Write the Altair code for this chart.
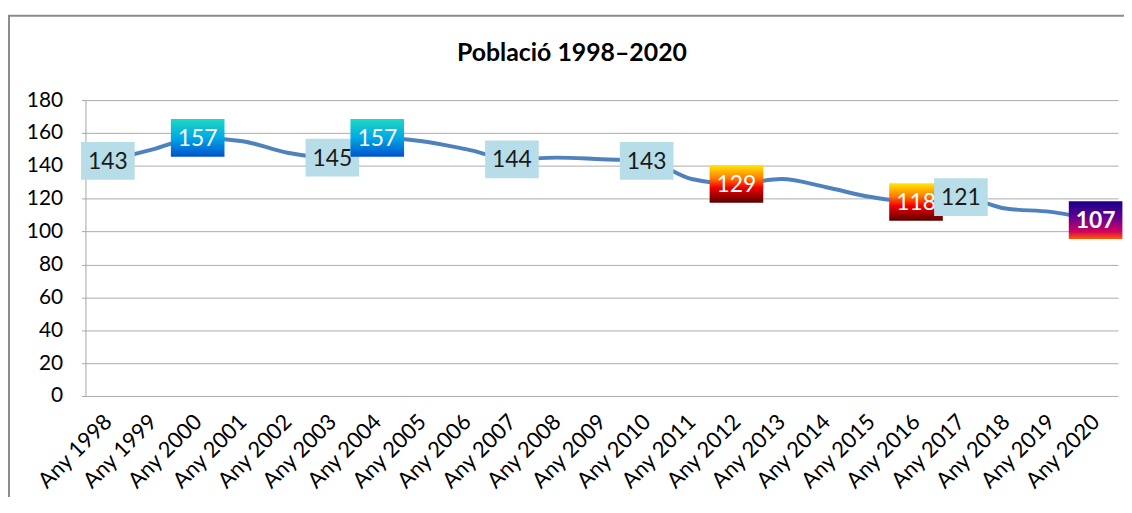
import altair as alt
import pandas as pd

title_text = "Població 1998–2020"
years = [f"Any {y}" for y in range(1998, 2021)]
values = [143, 150, 157, 155, 148, 145, 157, 155, 150, 144, 145, 144, 143,
          132, 129, 132, 127, 121, 118, 121, 114, 112, 107]
label_years = ["Any 1998", "Any 2000", "Any 2003", "Any 2004", "Any 2007",
               "Any 2010", "Any 2012", "Any 2016", "Any 2017", "Any 2020"]
label_kind = ["plain", "teal", "plain", "teal", "plain",
              "plain", "fire", "fire", "plain", "purple"]

df = pd.DataFrame({"year": years, "value": values})
val_map = dict(zip(years, values))
lab = pd.DataFrame({
    "year": label_years,
    "value": [val_map[y] for y in label_years],
    "kind": label_kind,
    "order": list(range(len(label_years))),
})

W, H = 1040, 298
FONT = "Lato"

x_scale = alt.Scale(type="point", padding=0.5)
y_scale = alt.Scale(domain=[0, 180], nice=False)


def xy():
    return dict(
        x=alt.X("year:N", sort=years, scale=x_scale, title=None),
        y=alt.Y("value:Q", scale=y_scale, title=None),
    )


frame = alt.Chart(pd.DataFrame({"a": [0]})).mark_rect(
    fillOpacity=0, stroke="#8C8C8C", strokeWidth=2
).encode(x=alt.value(-77), x2=alt.value(1070), y=alt.value(-85), y2=alt.value(430))

title = alt.Chart(pd.DataFrame({"t": [title_text]})).mark_text(
    fontSize=25, font=FONT, fontWeight="bold", color="black", align="center",
    baseline="middle"
).encode(text="t:N", x=alt.value(490), y=alt.value(-47))

line = alt.Chart(df).mark_line(color="#4F81BD", strokeWidth=4,
                               interpolate="monotone").encode(**xy())

gradients = {
    "teal": alt.LinearGradient(gradient="linear", x1=0, y1=0, x2=0, y2=1, stops=[
        alt.GradientStop(color="#1ED8C2", offset=0),
        alt.GradientStop(color="#00A8E6", offset=0.5),
        alt.GradientStop(color="#0052CC", offset=1)]),
    "fire": alt.LinearGradient(gradient="linear", x1=0, y1=0, x2=0, y2=1, stops=[
        alt.GradientStop(color="#FFEA00", offset=0),
        alt.GradientStop(color="#FF7A00", offset=0.35),
        alt.GradientStop(color="#F00000", offset=0.6),
        alt.GradientStop(color="#5A0000", offset=1)]),
    "purple": alt.LinearGradient(gradient="linear", x1=0, y1=0, x2=0, y2=1, stops=[
        alt.GradientStop(color="#18008A", offset=0),
        alt.GradientStop(color="#6A0090", offset=0.45),
        alt.GradientStop(color="#D00060", offset=0.8),
        alt.GradientStop(color="#FF5A00", offset=1)]),
    "plain": "#B7DDE8",
}

# draw each box with its text so later labels overlap earlier ones
label_layers = []
for i in range(len(label_years)):
    sub = lab[lab["order"] == i]
    kind = label_kind[i]
    label_layers.append(
        alt.Chart(sub).mark_rect(width=54, height=38, fill=gradients[kind]).encode(**xy()))
    label_layers.append(
        alt.Chart(sub).mark_text(
            fontSize=23, font=FONT, dy=1,
            color="#1A1A1A" if kind == "plain" else "white",
            fontWeight="bold" if kind == "purple" else "normal",
        ).encode(text=alt.Text("value:Q"), **xy()))

chart = alt.layer(line, *label_layers, frame, title).properties(
    width=W, height=H,
    autosize=alt.AutoSizeParams(type="none"),
    padding={"left": 78, "top": 91, "right": 6, "bottom": 100},
).configure_view(stroke=None).configure_axis(
    labelFont=FONT, labelColor="black", labelOverlap=False,
).configure_axisX(
    labelAngle=-45, labelAlign="right", labelBaseline="middle", labelFontSize=22,
    labelPadding=22, ticks=False, domain=False, grid=False,
).configure_axisY(
    tickCount=10, labelPadding=19, tickSize=4, tickColor="#A6A6A6", labelFontSize=21,
    domainColor="#A6A6A6", gridColor="#ABABAB", gridWidth=1,
)

chart.save("out.html", embed_options={"renderer": "svg", "actions": False})
